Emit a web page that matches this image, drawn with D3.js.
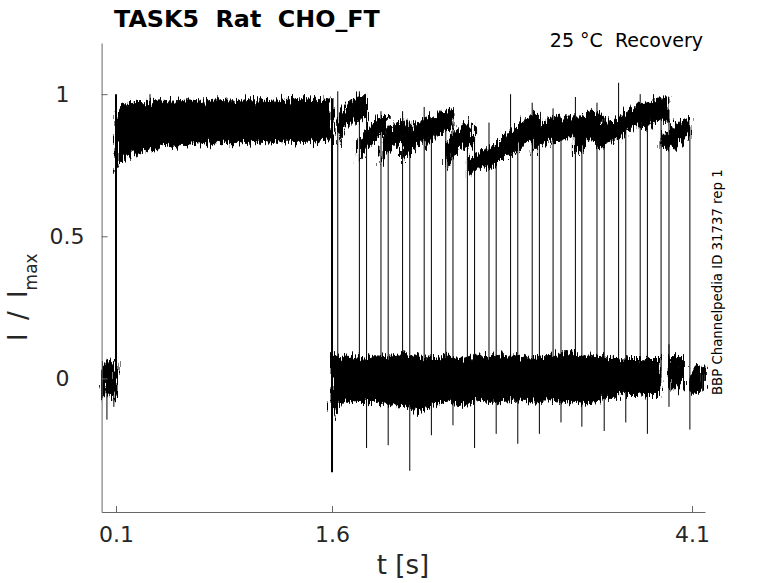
<!DOCTYPE html>
<html lang="en">
<head>
<meta charset="UTF-8">
<title>TASK5 Rat CHO_FT recovery</title>
<script src="https://cdn.jsdelivr.net/npm/d3@7"></script>
<style>
    body{ margin: 0; background: #fff; }
    svg text{ font-family: "DejaVu Sans", sans-serif; white-space: pre; }
</style>
</head>
<body>
<svg id="chart" width="778" height="583"></svg>
<script>
    // holding before the conditioning step (envelope of the noisy trace)
    let preT  = [0, 0.015, 0.03, 0.045, 0.06, 0.075, 0.09, 0.1]
    let preHi = [0.03, 0.05, 0.06, 0.055, 0.065, 0.06, 0.07, 0.06]
    let preLo = [-0.03, -0.06, -0.07, -0.075, -0.06, -0.07, -0.08, -0.06]

    // conditioning step 0.1 - 1.6 s (all sweeps overlaid)
    let condT  = [0.1, 0.11, 0.13, 0.16, 0.2, 0.25, 0.3, 0.35, 0.4, 0.5, 0.6, 0.7, 0.8, 0.9, 1.0, 1.1, 1.2, 1.3, 1.4, 1.5, 1.6]
    let condHi = [0.92, 0.93, 0.95, 0.965, 0.97, 0.975, 0.97, 0.975, 0.98, 0.975, 0.98, 0.975, 0.98, 0.975, 0.98, 0.98, 0.975, 0.98, 0.985, 0.98, 0.985]
    let condLo = [0.72, 0.745, 0.76, 0.77, 0.78, 0.79, 0.80, 0.81, 0.815, 0.82, 0.825, 0.825, 0.83, 0.825, 0.83, 0.835, 0.83, 0.835, 0.83, 0.835, 0.84]

    // holding between conditioning and test pulses
    let baseT  = [1.6, 1.62, 1.65, 1.7, 1.8, 1.9, 2.0, 2.1, 2.2, 2.3, 2.4, 2.5, 2.6, 2.7, 2.8, 2.9, 3.0, 3.1, 3.2, 3.3, 3.4, 3.5, 3.6, 3.7, 3.8, 3.885]
    let baseHi = [0.08, 0.08, 0.07, 0.075, 0.07, 0.08, 0.075, 0.09, 0.075, 0.07, 0.075, 0.07, 0.08, 0.075, 0.08, 0.075, 0.07, 0.08, 0.09, 0.09, 0.08, 0.075, 0.065, 0.065, 0.06, 0.055]
    let baseLo = [-0.15, -0.11, -0.09, -0.08, -0.085, -0.08, -0.095, -0.09, -0.12, -0.095, -0.08, -0.095, -0.075, -0.085, -0.08, -0.075, -0.08, -0.075, -0.08, -0.085, -0.09, -0.065, -0.045, -0.05, -0.045, -0.045]

    // test pulses: onset, spike top, trace level along the pulse, noise, dip at offset
    let pulseSampleT = [0, 0.05, 0.1, 0.15, 0.2]
    let testOn   = [1.64, 1.79, 1.94, 2.09, 2.24, 2.39, 2.54, 2.69, 2.84, 2.99, 3.135, 3.29, 3.44, 3.59, 3.74, 3.885]
    let testPeak = [1.01, 1.01, 0.94, 0.94, 0.955, 0.925, 0.84, 0.90, 1.0, 0.97, 0.95, 0.99, 0.97, 1.04, 1.0, 0.985]
    let testLevel = [
        [0.87, 0.92, 0.94, 0.95, 0.96],
        [0.80, 0.84, 0.87, 0.89, 0.89],
        [0.79, 0.83, 0.86, 0.87, 0.87],
        [0.80, 0.83, 0.86, 0.88, 0.89],
        [0.85, 0.87, 0.895, 0.91, 0.905],
        [0.78, 0.82, 0.85, 0.86, 0.85],
        [0.74, 0.755, 0.77, 0.78, 0.79],
        [0.77, 0.79, 0.815, 0.835, 0.845],
        [0.82, 0.855, 0.87, 0.885, 0.89],
        [0.83, 0.855, 0.87, 0.885, 0.895],
        [0.855, 0.87, 0.885, 0.885, 0.885],
        [0.84, 0.87, 0.89, 0.885, 0.87],
        [0.845, 0.86, 0.87, 0.885, 0.885],
        [0.875, 0.905, 0.92, 0.93, 0.935],
        [0.91, 0.93, 0.94, 0.95, 0.945],
        [0.83, 0.84, 0.855, 0.875, 0.885]]
    let testNoise = [0.04, 0.035, 0.035, 0.035, 0.035, 0.04, 0.03, 0.035, 0.04, 0.035, 0.035, 0.05, 0.035, 0.035, 0.04, 0.035]
    let testDip  = [-0.245, -0.235, -0.325, -0.20, -0.165, -0.245, -0.195, -0.23, -0.195, -0.155, -0.17, -0.185, -0.155, -0.195, -0.10, -0.18]
    // holding after each test pulse
    let tailHi = [0.07, 0.07, 0.07, 0.07, 0.07, 0.07, 0.07, 0.07, 0.07, 0.07, 0.07, 0.07, 0.07, 0.07, 0.08, 0.04]
    let tailLo = [-0.07, -0.07, -0.07, -0.07, -0.07, -0.07, -0.07, -0.07, -0.07, -0.07, -0.07, -0.07, -0.06, -0.06, -0.04, -0.045]
    let testDur = 0.2, tailDur = 0.1

    // single noise spikes standing out of the bands
    let spikeT    = [0.037, 0.085, 0.336, 3.94]
    let spikeFrom = [0, 0, 0.9, 0]
    let spikeTo   = [-0.145, -0.1, 1.0, 0.12]

    let xTicks = [0.1, 1.6, 4.1]
    let yTicks = [0, 0.5, 1]

    let svg = d3.select("#chart")
    let x = d3.scaleLinear().domain([0, 4.19]).range([101.6, 705])
    let y = d3.scaleLinear().domain([-0.47, 1.18]).range([512, 43])

    // noisy edge texture for the current bands
    let filt = svg.append("defs").append("filter")
        .attr("id", "jitter")
        .attr("filterUnits", "userSpaceOnUse")
        .attr("x", 0).attr("y", 0).attr("width", 778).attr("height", 583)
    filt.append("feTurbulence")
        .attr("type", "fractalNoise")
        .attr("baseFrequency", "0.6 0.05")
        .attr("numOctaves", 2)
        .attr("seed", 4)
        .attr("result", "noise")
    filt.append("feDisplacementMap")
        .attr("in", "SourceGraphic")
        .attr("in2", "noise")
        .attr("scale", 18)
        .attr("xChannelSelector", "R")
        .attr("yChannelSelector", "G")

    let area = d3.area()
        .x(d => x(d[0]))
        .y0(d => y(d[2]))
        .y1(d => y(d[1]))

    let bands = [d3.zip(preT, preHi, preLo),
                 d3.zip(condT, condHi, condLo),
                 d3.zip(baseT, baseHi, baseLo)]
    testOn.forEach(function(on, i){
        bands.push(pulseSampleT.map((s, j) => [on + s, testLevel[i][j] + testNoise[i], testLevel[i][j] - testNoise[i]]))
        let off = on + testDur
        bands.push([[off, tailHi[i], tailLo[i]], [off + tailDur, tailHi[i], tailLo[i]]])
    })

    svg.append("g")
        .attr("filter", "url(#jitter)")
        .selectAll("path")
        .data(bands)
        .join("path")
        .attr("d", area)
        .attr("fill", "#000")
        .attr("stroke", "#000")
        .attr("stroke-width", 1)

    // vertical steps
    let steps = [{t: 0.1, a: 0, b: 1.0, w: 2}, {t: 1.6, a: 0.985, b: -0.33, w: 2}]
    testOn.forEach(function(on, i){
        steps.push({t: on, a: 0, b: testPeak[i], w: 1})
        steps.push({t: on + testDur, a: testLevel[i][4], b: testDip[i], w: 1})
    })
    spikeT.forEach((t, i) => steps.push({t: t, a: spikeFrom[i], b: spikeTo[i], w: 1}))

    svg.append("g")
        .selectAll("line")
        .data(steps)
        .join("line")
        .attr("x1", d => x(d.t)).attr("x2", d => x(d.t))
        .attr("y1", d => y(d.a)).attr("y2", d => y(d.b))
        .attr("stroke", "#000")
        .attr("stroke-width", d => d.w)

    // axes, ticks pointing inward
    let xAxis = svg.append("g")
        .attr("transform", "translate(0,512)")
        .call(d3.axisBottom(x).tickValues(xTicks).tickSize(-6).tickSizeOuter(0).tickPadding(14).tickFormat(d3.format(".1f")))
    let yAxis = svg.append("g")
        .attr("transform", "translate(101.6,0)")
        .call(d3.axisLeft(y).tickValues(yTicks).tickSize(-6).tickSizeOuter(0).tickFormat(d => String(d)))

    svg.selectAll(".domain, .tick line").attr("stroke", "#666")
    xAxis.selectAll("text").attr("fill", "#262626").attr("font-size", 22)
    yAxis.selectAll("text")
        .attr("fill", "#262626")
        .attr("font-size", 22)
        .attr("x", d => String(d).length > 1 ? -17 : -32)

    // texts
    svg.append("text")
        .attr("x", 114).attr("y", 27)
        .attr("font-size", 23.8).attr("font-weight", "bold")
        .text("TASK5  Rat  CHO_FT")
    svg.append("text")
        .attr("x", 703).attr("y", 47)
        .attr("text-anchor", "end")
        .attr("font-size", 19)
        .text("25 °C  Recovery")
    svg.append("text")
        .attr("transform", "translate(722,395) rotate(-90)")
        .attr("font-size", 13.3)
        .text("BBP Channelpedia ID 31737 rep 1")
    svg.append("text")
        .attr("x", 403).attr("y", 574)
        .attr("text-anchor", "middle")
        .attr("font-size", 26).attr("fill", "#262626")
        .text("t [s]")
    let yl = svg.append("text")
        .attr("transform", "translate(27,341) rotate(-90)")
        .attr("font-size", 26).attr("fill", "#262626")
        .attr("word-spacing", 5)
    yl.append("tspan").text("I / I")
    yl.append("tspan").attr("font-size", 17).attr("dy", 10).text("max")
</script>
</body>
</html>
